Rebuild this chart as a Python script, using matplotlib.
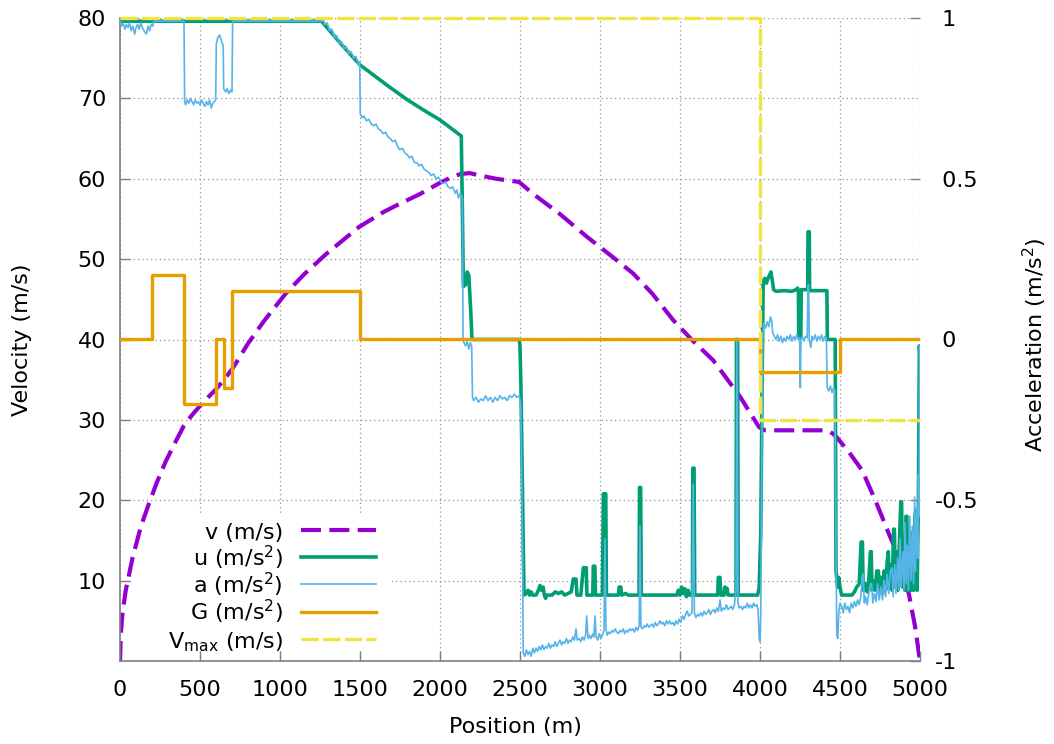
import matplotlib
matplotlib.use("Agg")
import matplotlib.pyplot as plt
from matplotlib.patches import Rectangle
from matplotlib.lines import Line2D

plt.rcParams['font.family'] = 'DejaVu Sans'
plt.rcParams['mathtext.fontset'] = 'dejavusans'
plt.rcParams['axes.unicode_minus'] = False

# speed profile (m/s) along the track
v_pos = [0, 5, 14, 35, 77, 130, 181, 230, 285, 340, 400, 450, 494, 550, 600, 650,
         700, 723, 800, 900, 1035, 1150, 1292, 1494, 1650, 1750, 1875, 2000, 2062,
         2129, 2187, 2250, 2350, 2494, 2583, 2744, 2917, 3077, 3208, 3327, 3458,
         3577, 3708, 3786, 3875, 3994, 4020, 4035, 4410, 4440, 4473, 4563, 4639,
         4729, 4806, 4875, 4931, 4969, 5000]
v_val = [0, 3.3, 5.6, 8.7, 12.7, 16.7, 19.6, 22.2, 24.8, 27.0, 29.3, 30.6, 31.6,
         32.8, 33.8, 35.0, 36.3, 37.0, 39.5, 42.3, 45.7, 48.1, 50.7, 54.0, 55.9,
         56.9, 58.1, 59.5, 60.1, 60.6, 60.7, 60.4, 60.0, 59.6, 58.1, 55.7, 52.8,
         50.3, 48.2, 45.7, 42.4, 39.9, 37.4, 35.3, 32.9, 29.1, 28.8, 28.7, 28.7,
         28.5, 28.0, 25.8, 23.7, 19.6, 15.8, 12.6, 8.3, 4.3, 0]

# speed limit (m/s)
vmax_pos = [0, 4000, 5000]
vmax_val = [80, 30, 30]

# gravity term (m/s^2), piecewise constant
g_pos = [0, 200, 400, 600, 650, 700, 1500, 4000, 4500, 5000]
g_val = [0, 0.2, -0.2, 0, -0.15, 0.15, 0, -0.1, 0, 0]

# control input u (m/s^2) as (position, value)
u_cruise = [(0, 0.99), (1260, 0.99), (1380, 0.92), (1500, 0.854), (1583, 0.823),
            (1688, 0.784), (1792, 0.747), (1896, 0.714), (2000, 0.683),
            (2133, 0.633), (2140, 0.4), (2146, 0.165), (2160, 0.17), (2170, 0.21),
            (2180, 0.2), (2192, 0.09), (2200, 0.0), (2495, 0.0), (2500, -0.02),
            (2506, -0.15), (2525, -0.795)]
u_brake = [(2540, -0.79), (2550, -0.78), (2560, -0.795), (2570, -0.785),
           (2580, -0.795), (2600, -0.795), (2615, -0.78), (2625, -0.765),
           (2635, -0.78), (2645, -0.77), (2652, -0.795), (2660, -0.805),
           (2667, -0.795), (2700, -0.795), (2720, -0.785), (2740, -0.79),
           (2760, -0.785), (2780, -0.795), (2800, -0.79), (2820, -0.785),
           (2833, -0.745), (2850, -0.745), (2856, -0.795), (2880, -0.795),
           (2896, -0.71), (2914, -0.71), (2918, -0.795), (2955, -0.795),
           (2958, -0.705), (2968, -0.705), (2972, -0.795), (3015, -0.795),
           (3021, -0.48), (3036, -0.48), (3040, -0.795), (3115, -0.795),
           (3120, -0.77), (3130, -0.77), (3135, -0.795), (3160, -0.79),
           (3175, -0.795), (3244, -0.795), (3247, -0.46), (3254, -0.46),
           (3258, -0.795), (3480, -0.795), (3490, -0.78), (3500, -0.795),
           (3510, -0.77), (3520, -0.79), (3530, -0.775), (3540, -0.8),
           (3550, -0.78), (3560, -0.795), (3578, -0.795), (3580, -0.40),
           (3588, -0.40), (3592, -0.795), (3735, -0.795), (3740, -0.74),
           (3750, -0.74), (3755, -0.795), (3775, -0.795), (3780, -0.77),
           (3795, -0.775), (3800, -0.795), (3850, -0.795), (3853, 0.0),
           (3860, 0.0), (3864, -0.795), (3985, -0.795), (3995, -0.77),
           (4005, -0.6), (4012, -0.2)]
u_limit = [(4020, 0.18), (4030, 0.19), (4040, 0.175), (4050, 0.19), (4060, 0.2),
           (4068, 0.21), (4075, 0.19), (4085, 0.155), (4100, 0.15), (4150, 0.152),
           (4200, 0.15), (4225, 0.155), (4235, 0.16), (4240, 0.15), (4242, 0.005),
           (4255, 0.005), (4258, 0.155), (4298, 0.155), (4300, 0.335),
           (4308, 0.335), (4310, 0.152), (4418, 0.152), (4421, 0.0), (4470, 0.0)]
u_final = [(4475, -0.72), (4485, -0.77), (4492, -0.74), (4500, -0.77),
           (4510, -0.795), (4575, -0.795), (4590, -0.785), (4605, -0.77),
           (4620, -0.76), (4632, -0.63), (4640, -0.63), (4645, -0.78),
           (4660, -0.76), (4670, -0.785), (4680, -0.75), (4690, -0.66),
           (4695, -0.66), (4700, -0.78), (4710, -0.75), (4720, -0.78),
           (4730, -0.72), (4740, -0.72), (4745, -0.78), (4755, -0.74),
           (4765, -0.79), (4775, -0.72), (4785, -0.78), (4795, -0.69),
           (4802, -0.66), (4808, -0.77), (4818, -0.70), (4826, -0.78),
           (4835, -0.59), (4840, -0.59), (4846, -0.77), (4855, -0.66),
           (4862, -0.78), (4872, -0.62), (4880, -0.505), (4885, -0.505),
           (4890, -0.77), (4898, -0.62), (4905, -0.78), (4912, -0.55),
           (4918, -0.55), (4924, -0.78), (4930, -0.63), (4937, -0.62),
           (4944, -0.78), (4952, -0.6), (4960, -0.78), (4968, -0.55),
           (4975, -0.53), (4982, -0.78), (4990, -0.5), (4996, -0.02),
           (5000, -0.05)]

# measured acceleration a (m/s^2) as (position, value)
a_start = [(0, 0.99), (10, 0.975), (20, 0.985), (30, 0.965), (40, 0.98),
           (50, 0.97), (60, 0.985), (70, 0.96), (80, 0.975), (92, 0.95),
           (100, 0.97), (110, 0.98), (120, 0.965), (130, 0.985), (140, 0.97),
           (150, 0.96), (165, 0.95), (175, 0.975), (185, 0.96), (195, 0.98),
           (205, 0.975), (212, 0.99), (400, 0.99), (404, 0.74), (410, 0.73),
           (420, 0.745), (430, 0.735), (440, 0.75), (450, 0.74), (460, 0.73),
           (470, 0.745), (480, 0.735), (490, 0.74), (500, 0.73), (510, 0.745),
           (520, 0.735), (530, 0.725), (540, 0.74), (550, 0.73), (560, 0.745),
           (570, 0.72), (580, 0.735), (590, 0.74), (598, 0.745), (602, 0.92),
           (612, 0.94), (622, 0.947), (630, 0.935), (640, 0.92), (645, 0.915),
           (648, 0.78), (660, 0.77), (670, 0.78), (680, 0.765), (690, 0.775),
           (700, 0.77), (704, 0.99), (1260, 0.99)]
a_descent = [(1270, 0.995), (1280, 0.98), (1295, 0.985), (1310, 0.96),
             (1325, 0.965), (1340, 0.94), (1355, 0.945), (1370, 0.92),
             (1385, 0.925), (1400, 0.905), (1415, 0.91), (1430, 0.89),
             (1445, 0.895), (1460, 0.875), (1475, 0.88), (1490, 0.855),
             (1498, 0.86), (1502, 0.70), (1515, 0.69), (1525, 0.695),
             (1540, 0.68), (1555, 0.685), (1570, 0.67), (1585, 0.665),
             (1600, 0.67), (1615, 0.655), (1630, 0.65), (1645, 0.64),
             (1660, 0.645), (1675, 0.63), (1690, 0.625), (1705, 0.615),
             (1720, 0.62), (1735, 0.60), (1750, 0.59), (1765, 0.595),
             (1780, 0.58), (1795, 0.575), (1810, 0.565), (1825, 0.57),
             (1840, 0.55), (1855, 0.55), (1870, 0.54), (1885, 0.545),
             (1900, 0.53), (1915, 0.525), (1930, 0.52), (1945, 0.51),
             (1960, 0.515), (1975, 0.50), (1990, 0.505), (2005, 0.49),
             (2020, 0.485), (2035, 0.49), (2050, 0.475), (2065, 0.47),
             (2080, 0.475), (2095, 0.455), (2105, 0.465), (2115, 0.44),
             (2125, 0.455), (2132, 0.45), (2140, 0.44)]
a_coast = [(2144, 0.0), (2150, -0.01), (2160, -0.02), (2170, -0.005),
           (2180, -0.03), (2190, -0.01), (2198, -0.02), (2203, -0.18),
           (2210, -0.19), (2225, -0.18), (2240, -0.195), (2255, -0.185),
           (2270, -0.19), (2285, -0.175), (2300, -0.19), (2315, -0.18),
           (2330, -0.195), (2345, -0.18), (2360, -0.19), (2375, -0.175),
           (2390, -0.185), (2405, -0.18), (2420, -0.19), (2435, -0.175),
           (2450, -0.18), (2465, -0.17), (2480, -0.18), (2495, -0.175),
           (2505, -0.2), (2515, -0.6)]
a_brake = [(2520, -0.975), (2530, -0.985), (2540, -0.965), (2550, -0.98),
           (2560, -0.97), (2570, -0.985), (2580, -0.96), (2590, -0.975),
           (2600, -0.96), (2610, -0.97), (2620, -0.955), (2630, -0.965),
           (2640, -0.95), (2650, -0.965), (2660, -0.955), (2670, -0.96),
           (2680, -0.945), (2690, -0.96), (2700, -0.95), (2710, -0.955),
           (2720, -0.94), (2730, -0.955), (2740, -0.945), (2750, -0.935),
           (2760, -0.95), (2770, -0.94), (2780, -0.945), (2790, -0.93),
           (2800, -0.945), (2810, -0.935), (2820, -0.94), (2830, -0.925),
           (2840, -0.935), (2850, -0.90), (2858, -0.935), (2870, -0.93),
           (2880, -0.94), (2890, -0.925), (2900, -0.935), (2910, -0.92),
           (2917, -0.86), (2925, -0.93), (2935, -0.92), (2945, -0.93),
           (2955, -0.915), (2962, -0.925), (2969, -0.86), (2976, -0.925),
           (2985, -0.935), (2995, -0.915), (3005, -0.93), (3015, -0.92),
           (3025, -0.905), (3031, -0.62), (3037, -0.90), (3045, -0.92),
           (3055, -0.91), (3065, -0.915), (3075, -0.905), (3085, -0.91),
           (3095, -0.90), (3105, -0.91), (3115, -0.915), (3125, -0.905),
           (3135, -0.91), (3145, -0.90), (3155, -0.915), (3165, -0.905),
           (3175, -0.91), (3185, -0.90), (3195, -0.905), (3205, -0.90),
           (3215, -0.91), (3225, -0.895), (3235, -0.905), (3245, -0.89),
           (3250, -0.58), (3256, -0.895), (3265, -0.90), (3275, -0.89),
           (3285, -0.895), (3295, -0.885), (3305, -0.895), (3315, -0.89),
           (3325, -0.885), (3335, -0.895), (3345, -0.88), (3355, -0.89),
           (3365, -0.885), (3375, -0.875), (3385, -0.885), (3395, -0.88),
           (3405, -0.89), (3415, -0.875), (3425, -0.885), (3435, -0.875),
           (3445, -0.885), (3455, -0.88), (3465, -0.89), (3475, -0.875),
           (3485, -0.885), (3495, -0.87), (3505, -0.88), (3515, -0.86),
           (3525, -0.87), (3535, -0.855), (3545, -0.845), (3555, -0.86),
           (3565, -0.855), (3575, -0.85), (3583, -0.45), (3590, -0.85),
           (3600, -0.865), (3610, -0.855), (3620, -0.86), (3630, -0.85),
           (3640, -0.86), (3650, -0.845), (3660, -0.855), (3670, -0.85),
           (3680, -0.84), (3690, -0.855), (3700, -0.845), (3710, -0.84),
           (3720, -0.85), (3730, -0.835), (3740, -0.845), (3750, -0.81),
           (3758, -0.845), (3770, -0.835), (3780, -0.84), (3790, -0.825),
           (3800, -0.84), (3810, -0.835), (3820, -0.83), (3830, -0.84),
           (3840, -0.825), (3850, -0.78), (3856, 0.0), (3862, -0.82),
           (3870, -0.835), (3880, -0.83), (3890, -0.84), (3900, -0.83),
           (3910, -0.835), (3920, -0.82), (3930, -0.835), (3940, -0.825),
           (3950, -0.835), (3960, -0.82), (3970, -0.83), (3980, -0.825),
           (3988, -0.84), (3995, -0.93), (4000, -0.94), (4005, -0.85),
           (4012, -0.3)]
a_limit = [(4018, 0.02), (4025, 0.05), (4035, 0.035), (4045, 0.055), (4055, 0.04),
           (4065, 0.07), (4072, 0.06), (4080, 0.02), (4090, 0.01), (4100, 0.0),
           (4110, 0.015), (4120, -0.005), (4130, 0.01), (4140, -0.01),
           (4150, 0.005), (4160, -0.005), (4170, 0.01), (4180, 0.0),
           (4190, 0.015), (4200, -0.005), (4210, 0.01), (4220, 0.0),
           (4230, 0.015), (4240, 0.0), (4248, 0.005), (4252, -0.15),
           (4256, 0.0), (4265, 0.01), (4275, -0.005), (4285, 0.01),
           (4295, 0.005), (4300, 0.17), (4304, 0.17), (4308, 0.0),
           (4318, -0.025), (4325, 0.01), (4335, 0.0), (4345, 0.015),
           (4355, -0.005), (4365, 0.01), (4375, 0.0), (4385, 0.015),
           (4395, -0.005), (4405, 0.01), (4415, 0.005), (4420, -0.15),
           (4430, -0.16), (4440, -0.145), (4450, -0.165), (4460, -0.15),
           (4468, -0.16), (4474, -0.6)]
a_final = [(4480, -0.92), (4486, -0.93), (4492, -0.85), (4500, -0.82),
           (4510, -0.83), (4520, -0.85), (4530, -0.82), (4540, -0.84),
           (4550, -0.83), (4560, -0.85), (4570, -0.82), (4580, -0.835),
           (4590, -0.815), (4600, -0.83), (4610, -0.81), (4620, -0.825),
           (4630, -0.80), (4638, -0.74), (4645, -0.73), (4652, -0.82),
           (4660, -0.80), (4670, -0.825), (4680, -0.79), (4690, -0.76),
           (4698, -0.76), (4705, -0.82), (4715, -0.79), (4725, -0.815),
           (4735, -0.76), (4745, -0.81), (4755, -0.77), (4765, -0.81),
           (4775, -0.75), (4785, -0.80), (4795, -0.73), (4805, -0.79),
           (4815, -0.72), (4825, -0.71), (4832, -0.80), (4842, -0.70),
           (4850, -0.79), (4860, -0.68), (4868, -0.78), (4875, -0.62),
           (4882, -0.77), (4892, -0.66), (4900, -0.78), (4906, -0.57),
           (4913, -0.76), (4920, -0.64), (4928, -0.78), (4936, -0.55),
           (4944, -0.75), (4952, -0.58), (4960, -0.76), (4966, -0.49),
           (4972, -0.72), (4980, -0.52), (4986, -0.68), (4990, -0.42),
           (4994, -0.55), (4997, -0.02), (5000, -0.1)]

u_pos, u_val = zip(*(u_cruise + u_brake + u_limit + u_final))
a_pos, a_val = zip(*(a_start + a_descent + a_coast + a_brake + a_limit + a_final))

pos_ticks = list(range(0, 5001, 500))
vel_ticks = list(range(10, 81, 10))
acc_ticks = [-1, -0.5, 0, 0.5, 1]
acc_labels = ['-1', '-0.5', ' 0', ' 0.5', ' 1']

purple, green, blue = '#9400D3', '#009E73', '#56B4E9'
orange, yellow = '#E69F00', '#F0E442'
axis_grey = '#808080'

fig = plt.figure(figsize=(10.54, 7.44), dpi=100)
W, H = 1054, 744
ax = fig.add_axes([120 / W, 1 - 661 / H, 800 / W, 643 / H])
ax2 = ax.twinx()

ax.set_xlim(0, 5000)
ax.set_ylim(0, 80)
ax2.set_ylim(-1, 1)

ax.set_xticks(pos_ticks)
ax.set_yticks(vel_ticks)
ax2.set_yticks(acc_ticks)
ax2.set_yticklabels(acc_labels)

for a_ in (ax, ax2):
    for side in ('top', 'right'):
        a_.spines[side].set_visible(False)
ax2.spines['left'].set_visible(False)
ax2.spines['bottom'].set_visible(False)
for side in ('left', 'bottom'):
    ax.spines[side].set_color(axis_grey)
    ax.spines[side].set_linewidth(1.2)

ax.tick_params(axis='both', direction='in', length=7, width=1, color=axis_grey,
               labelsize=16, labelcolor='black')
ax.tick_params(axis='y', pad=10)
ax.tick_params(axis='x', pad=14)
ax2.tick_params(axis='y', direction='in', length=7, width=1, color=axis_grey,
                labelsize=16, pad=11)
for lbl in ax2.get_yticklabels():
    lbl.set_horizontalalignment('left')

ax.grid(True, color='#909090', linestyle=(0, (1, 2.5)), linewidth=0.9)

# key background masks the grid
key_bg = Rectangle(((131 - 120) / 800, (661 - 650) / 643), (392 - 131) / 800,
                   (650 - 515) / 643, transform=ax.transAxes, facecolor='white',
                   edgecolor='none', zorder=1.8)
ax.add_patch(key_bg)

v_style = dict(color=purple, lw=3.0, dashes=(4.8, 2.0))
u_style = dict(color=green, lw=2.6)
a_style = dict(color=blue, lw=1.2)
g_style = dict(color=orange, lw=2.4)
vmax_style = dict(color=yellow, lw=2.4, dashes=(5.2, 1.3))

ax.plot(v_pos, v_val, **v_style)
ax2.plot(u_pos, u_val, **u_style)
ax2.plot(a_pos, a_val, **a_style)
ax2.plot(g_pos, g_val, drawstyle='steps-post', **g_style)
ax2.plot(vmax_pos, vmax_val, drawstyle='steps-post', transform=ax.transData,
         clip_on=False, **vmax_style)

# key: labels right-aligned, samples on the right
key_rows = [('v (m/s)', v_style), ('u (m/s$^2$)', u_style),
            ('a (m/s$^2$)', a_style), ('G (m/s$^2$)', g_style),
            ('V$_{\\mathrm{max}}$ (m/s)', vmax_style)]
for i, (label, style) in enumerate(key_rows):
    yrow = 529.5 + i * 27.4
    fy = (661 - yrow) / 643
    ax2.add_line(Line2D([(301 - 120) / 800, (376 - 120) / 800], [fy, fy],
                        transform=ax2.transAxes, **style))
    ax2.text((283 - 120) / 800, (661 - yrow - 9) / 643, label,
             transform=ax2.transAxes, ha='right', va='baseline', fontsize=16)

fig.text(22 / W, 1 - 340 / H, 'Velocity (m/s)', rotation=90, ha='center',
         va='center', fontsize=16)
fig.text(515 / W, 1 - 727 / H, 'Position (m)', ha='center', va='center',
         fontsize=16)
fig.text(1035 / W, 1 - 345 / H, 'Acceleration (m/s$^2$)', rotation=90,
         ha='center', va='center', fontsize=16)

fig.savefig('out.png', dpi=100)
